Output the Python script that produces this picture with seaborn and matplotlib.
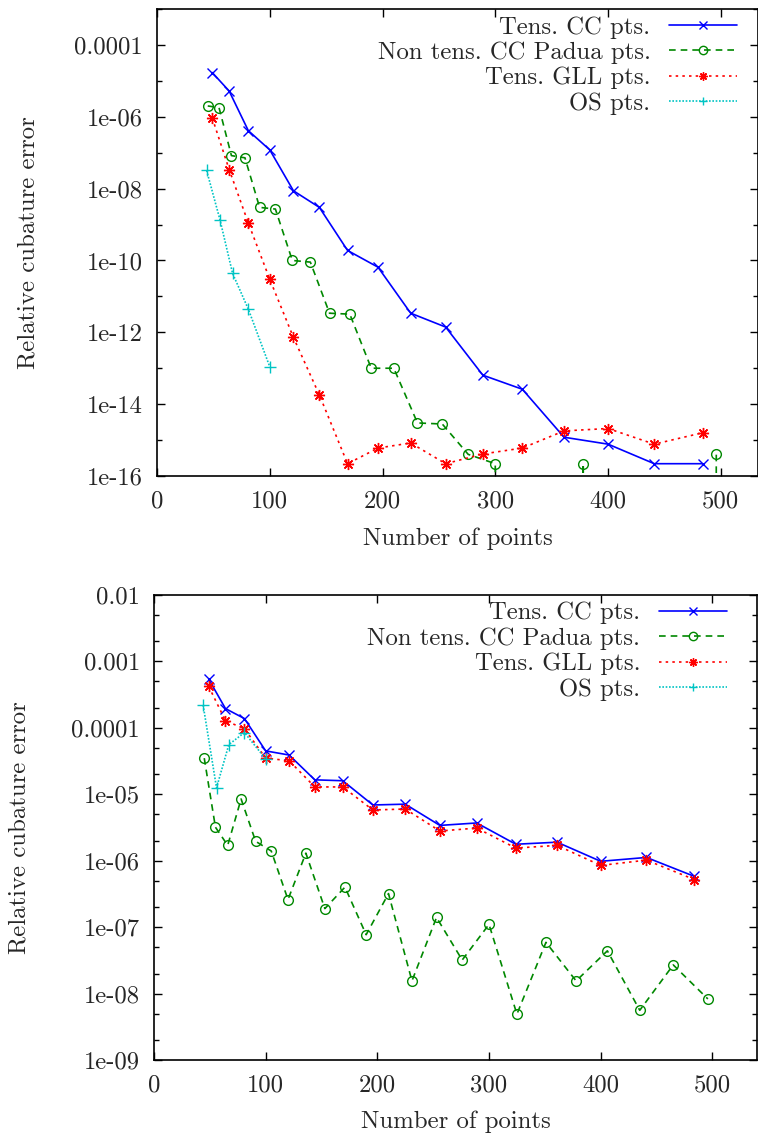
import matplotlib.pyplot as plt
import numpy as np
import pandas as pd
import seaborn as sns
from matplotlib.ticker import LogLocator, NullFormatter

# number of points for each family
tens_n = [49, 64, 81, 100, 121, 144, 169, 196, 225, 256, 289, 324, 361, 400, 441, 484]
padua_n = [45, 55, 66, 78, 91, 105, 120, 136, 153, 171, 190, 210, 231, 253,
           276, 300, 325, 351, 378, 406, 435, 465, 496]
os_n = [44, 56, 67, 81, 100]

# top panel errors (0 = exact, falls off the log axis)
cc_err_top = [1.7e-5, 5.2e-6, 4.1e-7, 1.2e-7, 8.7e-9, 3.0e-9, 1.9e-10, 6.5e-11,
              3.4e-12, 1.4e-12, 6.4e-14, 2.6e-14, 1.2e-15, 7.7e-16, 2.2e-16, 2.2e-16]
padua_err_top = [2.0e-6, 1.8e-6, 8.3e-8, 7.2e-8, 3.0e-9, 2.7e-9, 1.0e-10, 9.0e-11,
                 3.4e-12, 3.2e-12, 1.0e-13, 1.0e-13, 3.0e-15, 2.8e-15, 4.0e-16,
                 2.2e-16, 0, 0, 2.2e-16, 0, 0, 0, 4.0e-16]
gll_err_top = [9.3e-7, 3.4e-8, 1.1e-9, 3.0e-11, 7.2e-13, 1.8e-14, 2.2e-16, 6.0e-16,
               8.3e-16, 2.2e-16, 4.1e-16, 6.0e-16, 1.8e-15, 2.1e-15, 7.7e-16, 1.6e-15]
os_err_top = [3.2e-8, 1.3e-9, 4.4e-11, 4.4e-12, 1.1e-13]

# bottom panel errors
cc_err_bot = [5.4e-4, 1.95e-4, 1.38e-4, 4.5e-5, 3.9e-5, 1.65e-5, 1.6e-5, 6.9e-6,
              7.1e-6, 3.4e-6, 3.7e-6, 1.77e-6, 1.9e-6, 9.8e-7, 1.12e-6, 5.8e-7]
padua_err_bot = [3.5e-5, 3.2e-6, 1.7e-6, 8.5e-6, 1.96e-6, 1.4e-6, 2.6e-7, 1.3e-6,
                 1.9e-7, 4.0e-7, 7.7e-8, 3.2e-7, 1.55e-8, 1.4e-7, 3.2e-8, 1.1e-7,
                 4.9e-9, 5.9e-8, 1.55e-8, 4.4e-8, 5.6e-9, 2.7e-8, 8.3e-9]
gll_err_bot = [4.2e-4, 1.28e-4, 9.7e-5, 3.5e-5, 3.2e-5, 1.29e-5, 1.29e-5, 5.8e-6,
               6.0e-6, 2.8e-6, 3.1e-6, 1.55e-6, 1.7e-6, 8.5e-7, 1.02e-6, 5.2e-7]
os_err_bot = [2.2e-4, 1.25e-5, 5.6e-5, 8.5e-5, 3.4e-5]

labels = ["Tens. CC pts.", "Non tens. CC Padua pts.", "Tens. GLL pts.", "OS pts."]

top_ticks = [1e-16, 1e-14, 1e-12, 1e-10, 1e-8, 1e-6, 1e-4]
top_ticklabels = ["1e-16", "1e-14", "1e-12", "1e-10", "1e-08", "1e-06", "0.0001"]
bot_ticks = [1e-9, 1e-8, 1e-7, 1e-6, 1e-5, 1e-4, 1e-3, 1e-2]
bot_ticklabels = ["1e-09", "1e-08", "1e-07", "1e-06", "1e-05", "0.0001", "0.001", "0.01"]

sns.set_style("ticks")
plt.rcParams["font.family"] = ["cmr10", "DejaVu Serif"]
plt.rcParams["axes.unicode_minus"] = False
FS = 17.8

styles = [
    dict(color="#0000ff", linestyle="-", marker="x", ms=7),
    dict(color="#008800", linestyle=(0, (4, 3)), marker="o", ms=7, mfc="none"),
    dict(color="#ff0000", linestyle=(0, (1.5, 2.5)), marker=(8, 2, 0), ms=8),
    dict(color="#00c4c4", linestyle=(0, (1, 1)), marker="+", ms=8),
]


def draw(ax, series, ticks, ticklabels, ylim, xmax, minor_subs, leg_anchor):
    for (xs, ys), lab, st in zip(series, labels, styles):
        df = pd.DataFrame({"n": xs, "err": ys})
        sns.lineplot(data=df, x="n", y="err", ax=ax, label=lab, estimator=None,
                     lw=1.2, mec=st["color"], mew=1.0, **st)
    ax.set_yscale("log", nonpositive="clip")
    ax.set_ylim(*ylim)
    ax.set_xlim(0, xmax)
    ax.set_yticks(ticks, ticklabels)
    ax.yaxis.set_minor_locator(LogLocator(base=10, subs=minor_subs, numticks=50))
    ax.yaxis.set_minor_formatter(NullFormatter())
    ax.set_xticks([0, 100, 200, 300, 400, 500])
    ax.tick_params(which="both", direction="in", top=True, right=True,
                   labelsize=FS, width=1.0, color="black")
    ax.tick_params(which="major", length=6, pad=10)
    ax.tick_params(which="minor", length=3.5)
    for sp in ax.spines.values():
        sp.set_linewidth(1.2)
        sp.set_color("black")
    ax.set_xlabel("Number of points", fontsize=FS)
    ax.set_ylabel("Relative cubature error", fontsize=FS)
    leg = ax.legend(loc="upper right", bbox_to_anchor=leg_anchor, frameon=False,
                    markerfirst=False, fontsize=FS, handlelength=2.75,
                    handletextpad=0.75, labelspacing=0.12, borderaxespad=0,
                    borderpad=0, numpoints=1)
    for h in leg.legend_handles:
        h.set_markersize(6)


fig = plt.figure(figsize=(7.58, 11.37), dpi=100)
ax1 = fig.add_axes([157 / 758, 1 - 476 / 1137, 601 / 758, 467 / 1137])
ax2 = fig.add_axes([154 / 758, 1 - 1060 / 1137, 603 / 758, 465 / 1137])

draw(ax1,
     [(tens_n, cc_err_top), (padua_n, padua_err_top), (tens_n, gll_err_top), (os_n, os_err_top)],
     top_ticks, top_ticklabels, (1e-16, 1e-3), 533, (1.0,), (0.965, 0.985))
# odd decades get minor ticks on the top panel
ax1.yaxis.set_minor_locator(plt.FixedLocator([10.0 ** k for k in range(-15, -2, 2)]))

draw(ax2,
     [(tens_n, cc_err_bot), (padua_n, padua_err_bot), (tens_n, gll_err_bot), (os_n, os_err_bot)],
     bot_ticks, bot_ticklabels, (1e-9, 1e-2), 540, (2.0, 5.0), (0.950, 0.985))

ax1.yaxis.set_label_coords(-0.195, 0.5)
ax1.xaxis.set_label_coords(0.5, -0.11)
ax2.yaxis.set_label_coords(-0.205, 0.5)
ax2.xaxis.set_label_coords(0.5, -0.108)

fig.savefig("out.png", dpi=100)
